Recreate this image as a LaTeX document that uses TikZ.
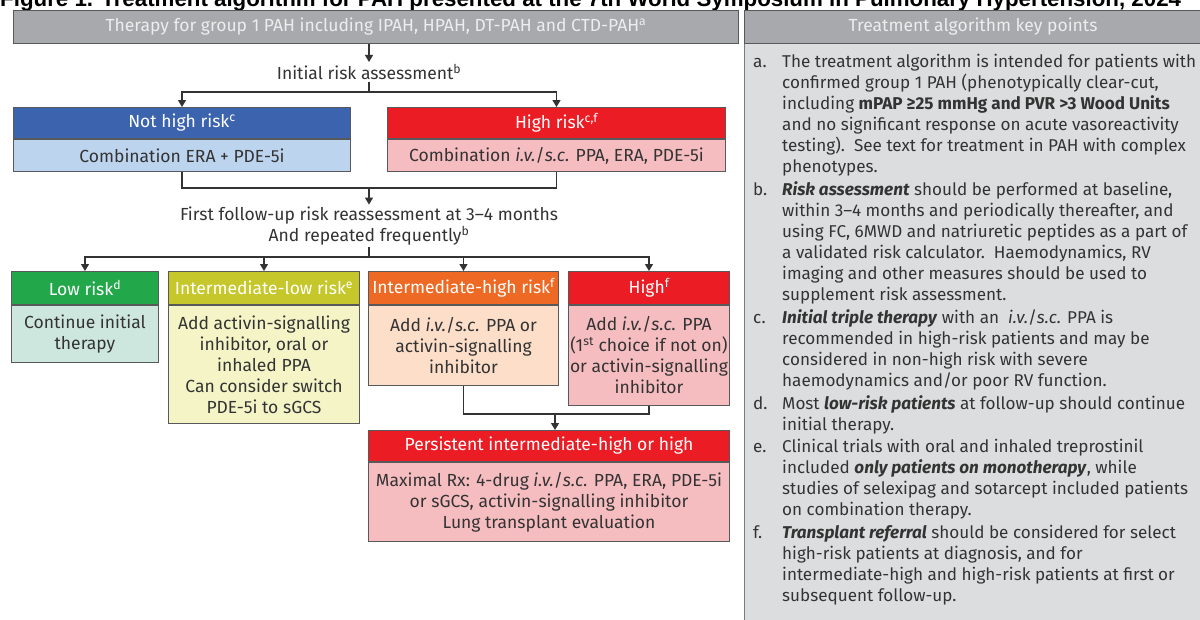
\documentclass[tikz,border=0pt]{standalone}
\usepackage{fontspec}
\setmainfont{Fira Sans}
\newfontfamily\titlefont{Liberation Sans}
\usetikzlibrary{arrows.meta}
\definecolor{hdrgray}{HTML}{A7A9AC}
\definecolor{panelgray}{HTML}{DCDDDE}
\definecolor{bordergray}{HTML}{58595B}
\definecolor{txt}{HTML}{333333}
\definecolor{lighttxt}{HTML}{EDEDED}
\definecolor{blueh}{HTML}{3B63AE}
\definecolor{blueb}{HTML}{BDD4EE}
\definecolor{redh}{HTML}{EC1C24}
\definecolor{pinkb}{HTML}{F6BDC1}
\definecolor{greenh}{HTML}{22A84A}
\definecolor{greenb}{HTML}{CEE7DE}
\definecolor{yellowh}{HTML}{C6C72B}
\definecolor{yellowb}{HTML}{F4F4C7}
\definecolor{orangeh}{HTML}{EE6A24}
\definecolor{orangeb}{HTML}{FCDEC9}
\newcommand{\msize}{\fontsize{17.5}{21}\selectfont}
\newcommand{\ksize}{\fontsize{17.1}{21}\selectfont}
\begin{document}
\begin{tikzpicture}[x=1pt,y=-1pt,
  hdr/.style={draw=bordergray, line width=1pt, text=white, anchor=north west, inner sep=0pt, font=\msize},
  bodybox/.style={draw=bordergray, line width=1pt, text=txt, anchor=north west, inner sep=0pt, align=center, font=\msize},
  plain/.style={text=txt, inner sep=2pt, align=center, font=\msize},
  kp/.style={text=txt, inner sep=0pt, anchor=north west, align=left, font=\ksize},
  conn/.style={draw=txt, line width=1.2pt},
  arr/.style={conn, -{Triangle[length=7pt,width=8pt]}}]
\useasboundingbox (0,0) rectangle (1200,619);
\clip (0,0) rectangle (1200,619);
\fill[white] (0,0) rectangle (1200,619);
% title
\node[anchor=base west, inner sep=0pt, font=\titlefont\bfseries\fontsize{22.3}{24}\selectfont] (title) at (0,6.5) {Figure 1. Treatment algorithm for PAH presented at the 7th World Symposium in Pulmonary Hypertension, 2024};
% top box
\node[hdr, fill=hdrgray, text=lighttxt, minimum width=725pt, minimum height=33pt] (top) at (13,10) {Therapy for group 1 PAH including IPAH, HPAH, DT-PAH and CTD-PAH\textsuperscript{a}};
% right panel
\node[hdr, fill=panelgray, draw=bordergray!80, minimum width=470pt, minimum height=590pt] (panel) at (744,43) {};
\node[hdr, fill=hdrgray, text=lighttxt, minimum width=457pt, minimum height=33pt] (panelh) at (744,10) {Treatment algorithm key points};
% initial risk
\node[plain] (irs) at (369,72) {Initial risk assessment\textsuperscript{b}};
\coordinate (j1) at (369,92);
% not high / high
\node[hdr, fill=blueh, minimum width=337pt, minimum height=31pt] (nhh) at (13,107) {Not high risk\textsuperscript{c}};
\node[bodybox, fill=blueb, minimum width=337pt, minimum height=32pt] (nhb) at (nhh.south west) {Combination ERA + PDE-5i};
\node[hdr, fill=redh, minimum width=338pt, minimum height=31pt] (hrh) at (387,107) {High risk\textsuperscript{c,f}};
\node[bodybox, fill=pinkb, minimum width=338pt, minimum height=32pt] (hrb) at (hrh.south west) {Combination \textit{i.v.}/\textit{s.c.} PPA, ERA, PDE-5i};
\coordinate (j2) at (369,188);
% follow-up
\node[plain] (fu) at (369,226) {First follow-up risk reassessment at 3--4 months\\And repeated frequently\textsuperscript{b}};
\coordinate (j3) at (369,257);
% four boxes
\node[hdr, fill=greenh, minimum width=147pt, minimum height=33pt] (lowh) at (11,271) {Low risk\textsuperscript{d}};
\node[bodybox, fill=greenb, minimum width=147pt, minimum height=57pt] (lowb) at (lowh.south west) {Continue initial\\therapy};
\node[hdr, fill=yellowh, minimum width=191pt, minimum height=33pt] (ilh) at (168,271) {Intermediate-low risk\textsuperscript{e}};
\node[bodybox, fill=yellowb, minimum width=191pt, minimum height=118pt] (ilb) at (ilh.south west) {Add activin-signalling\\inhibitor, oral or\\inhaled PPA\\Can consider switch\\PDE-5i to sGCS};
\node[hdr, fill=orangeh, minimum width=190pt, minimum height=33pt] (ihh) at (368,271) {Intermediate-high risk\textsuperscript{f}};
\node[bodybox, fill=orangeb, minimum width=190pt, minimum height=80pt] (ihb) at (ihh.south west) {Add \textit{i.v.}/\textit{s.c.} PPA or\\activin-signalling\\inhibitor};
\node[hdr, fill=redh, minimum width=161pt, minimum height=33pt] (hih) at (568,271) {High\textsuperscript{f}};
\node[bodybox, fill=pinkb, minimum width=161pt, minimum height=100pt] (hib) at (hih.south west) {Add \textit{i.v.}/\textit{s.c.} PPA\\(1\textsuperscript{st} choice if not on)\\or activin-signalling\\inhibitor};
\coordinate (j4) at (555,414);
% persistent
\node[hdr, fill=redh, minimum width=361pt, minimum height=31pt] (ph) at (368,430) {Persistent intermediate-high or high};
\node[bodybox, fill=pinkb, minimum width=361pt, minimum height=79pt] (pb) at (ph.south west) {Maximal Rx: 4-drug \textit{i.v.}/\textit{s.c.} PPA, ERA, PDE-5i\\or sGCS, activin-signalling inhibitor\\Lung transplant evaluation};
% connectors
\draw[arr] (irs.north |- top.south) -- (irs.north);
\draw[conn] (irs.south) -- (j1);
\draw[arr] (j1) -| (nhh.north);
\draw[arr] (j1) -| (hrh.north);
\draw[conn] (nhb.south) |- (j2) -| (hrb.south);
\draw[arr] (j2) -- (fu.north);
\draw[conn] (fu.south) -- (j3);
\draw[arr] (j3) -| (lowh.north);
\draw[arr] (j3) -| (ilh.north);
\draw[arr] (j3) -| (ihh.north);
\draw[arr] (j3) -| (hih.north);
\draw[conn] (ihb.south) |- (j4) -| (hib.south);
\draw[arr] (j4) -- (j4 |- ph.north);
% key points
\node[kp] (la) at (753,52.8) {\strut a.};
\node[kp] (ka) at (782,52.8) {\strut The treatment algorithm is intended for patients with\\confirmed group 1 PAH (phenotypically clear-cut,\\including \textbf{mPAP ≥25 mmHg and PVR >3 Wood Units}\\and no significant response on acute vasoreactivity\\testing).\ \ See text for treatment in PAH with complex\\phenotypes.\strut};
\node[kp] (lb) at (753,180.6) {\strut b.};
\node[kp] (kb) at (782,180.6) {\strut\textbf{\textit{Risk assessment}} should be performed at baseline,\\within 3--4 months and periodically thereafter, and\\using FC, 6MWD and natriuretic peptides as a part of\\a validated risk calculator.\ \ Haemodynamics, RV\\imaging and other measures should be used to\\supplement risk assessment.\strut};
\node[kp] (lc) at (753,308.4) {\strut c.};
\node[kp] (kc) at (782,308.4) {\strut\textbf{\textit{Initial triple therapy}} with an \ \textit{i.v.}/\textit{s.c.} PPA is\\recommended in high-risk patients and may be\\considered in non-high risk with severe\\haemodynamics and/or poor RV function.\strut};
\node[kp] (ld) at (753,394.2) {\strut d.};
\node[kp] (kd) at (782,394.2) {\strut Most \textbf{\textit{low-risk patients}} at follow-up should continue\\initial therapy.\strut};
\node[kp] (le) at (753,438) {\strut e.};
\node[kp] (ke) at (782,438) {\strut Clinical trials with oral and inhaled treprostinil\\included \textbf{\textit{only patients on monotherapy}}, while\\studies of selexipag and sotarcept included patients\\on combination therapy.\strut};
\node[kp] (lf) at (753,523.8) {\strut f.};
\node[kp] (kf) at (782,523.8) {\strut\textbf{\textit{Transplant referral}} should be considered for select\\high-risk patients at diagnosis, and for\\intermediate-high and high-risk patients at first or\\subsequent follow-up.\strut};
\end{tikzpicture}
\end{document}
